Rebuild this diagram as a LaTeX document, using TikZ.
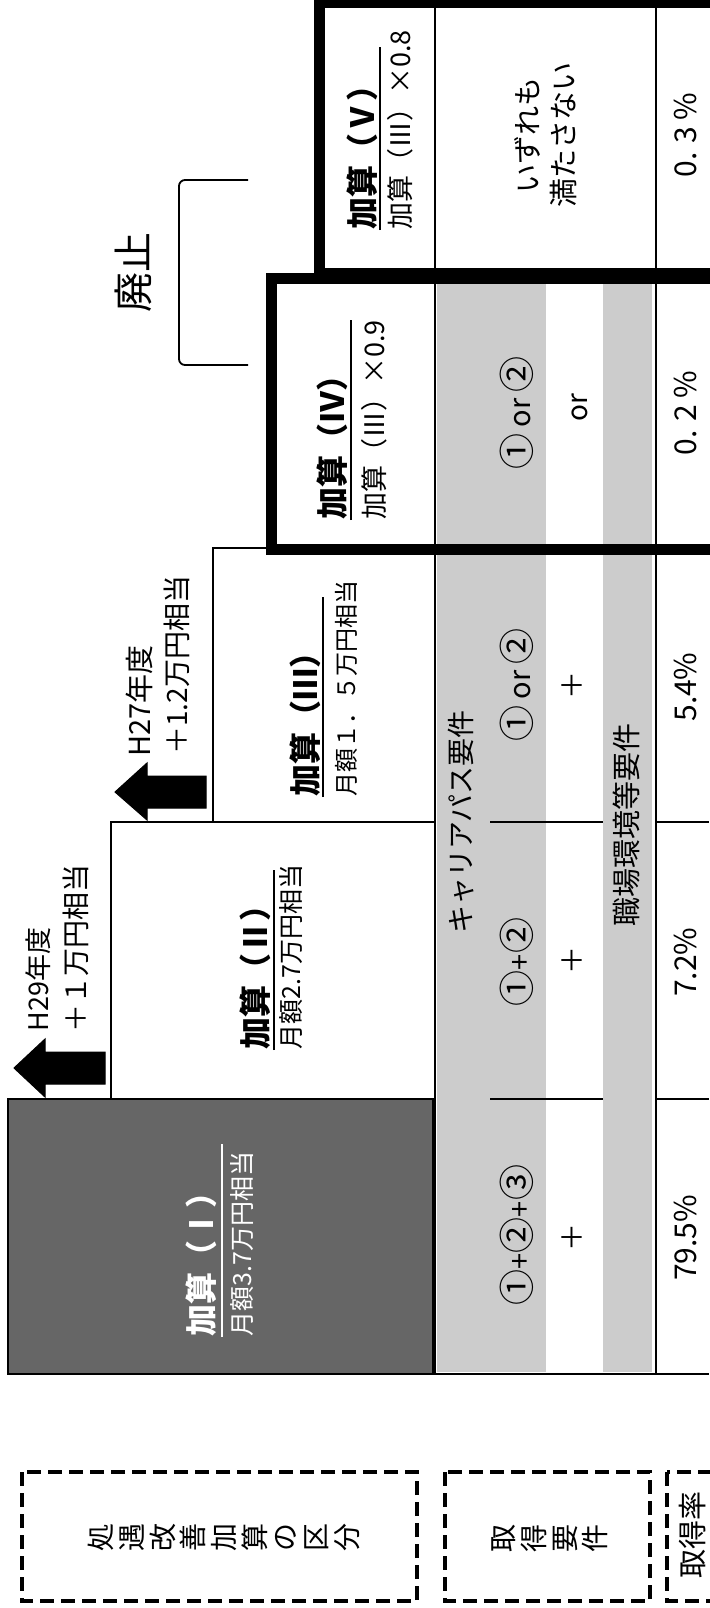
\documentclass[tikz,border=0pt]{standalone}
\usepackage{fontspec}
\setmainfont{Noto Sans CJK JP}
\newcommand{\fsz}[1]{\fontsize{#1}{#1}\selectfont}
\newcommand{\cnum}[1]{{\fsz{18}#1}}
\definecolor{lightg}{gray}{0.80}
\definecolor{darkg}{gray}{0.40}
\tikzset{
  thinln/.style={line width=1.3pt},
  thickbox/.style={line width=5.5pt},
  dashbox/.style={line width=2pt, dash pattern=on 7pt off 3.5pt},
  ul/.style={line width=1pt},
  rl/.style={rotate=90, inner sep=0pt},
  rw/.style={rotate=90, inner sep=0pt, anchor=west},
  ttl/.style={rw, font=\fsz{16}\bfseries},
  sub/.style={rw, font=\fsz{12.5}},
  arrowtxt/.style={rw, font=\fsz{14}},
  req/.style={rl, font=\fsz{14.5}},
  rate/.style={rl, font=\fsz{15}},
  hdr/.style={rl, align=center, font=\fontsize{14}{15.35}\selectfont},
  blockarrow/.style={fill=black, draw=black, line width=0.5pt}
}
\begin{document}
\begin{tikzpicture}[x=0.5pt,y=-0.5pt]
\useasboundingbox (0,0) rectangle (709,1608);

% grey bands of the requirement column
\fill[lightg] (437,283) rectangle (546,1372);
\fill[lightg] (603,283) rectangle (652,1372);

% step arrows (pointing left)
\fill[blockarrow] (14,1068) -- (45,1039) -- (45,1052) -- (105,1052) -- (105,1084) -- (45,1084) -- (45,1097) -- cycle;
\fill[blockarrow] (115,792) -- (147,763) -- (147,776) -- (206,776) -- (206,808) -- (147,808) -- (147,820) -- cycle;

% category boxes
\draw[thinln, fill=darkg] (8,1099) rectangle (433,1374);
\draw[thinln] (111,1099) -- (111,822) -- (435,822);
\draw[thinln] (213,822) -- (213,548) -- (271,548);

% column and row lines
\draw[thinln] (435,0) -- (435,1374);
\draw[thinln] (656,0) -- (656,1374);
\draw[thinln] (433,1374) -- (709,1374);
\draw[thinln] (490,822) -- (603,822) (656,822) -- (709,822);
\draw[thinln] (490,1099) -- (603,1099) (656,1099) -- (709,1099);

% thick boxes IV and V
\draw[thickbox] (319,2) rectangle (760,273);
\draw[thickbox] (271,278) rectangle (760,549);

% abolished bracket
\draw[line width=0.9pt, rounded corners=3pt] (248,180) -- (179,180) -- (179,365) -- (248,365);
\node[rl, font=\fsz{20}] (haishi) at (133.5,272) {廃止};

% arrow texts
\node[arrowtxt, font=\fsz{13.5}] (h29a) at (38.5,1032) {H29年度};
\node[arrowtxt] (h29b) at (75.5,1033) {＋１万円相当};
\node[arrowtxt, font=\fsz{14.5}] (h27a) at (139.5,757) {H27年度};
\node[arrowtxt] (h27b) at (176.5,755) {＋1.2万円相当};

% category titles
\node[ttl, text=white] (t1) at (201,1337) {加算（Ⅰ）};
\node[sub, text=white] (s1) at (242,1337) {月額3.7万円相当};
\draw[ul, white] (222,1337) -- (222,1144);

\node[ttl] (t2) at (255.5,1050) {加算（Ⅱ）};
\node[sub] (s2) at (291.5,1050) {月額2.7万円相当};
\draw[ul] (274,1050) -- (274,870);

\node[ttl] (t3) at (305.5,797) {加算（Ⅲ）};
\node[sub, font=\fsz{12}] (s3) at (346,797) {月額１．５万円相当};
\draw[ul] (323,797) -- (323,597);

\node[ttl] (t4) at (332.5,520) {加算（Ⅳ）};
\node[sub, font=\fsz{13.5}] (s4) at (374.5,520) {加算（Ⅲ）×0.9};
\draw[ul] (351,520) -- (351,320);

\node[ttl] (t5) at (362,230) {加算（Ⅴ）};
\node[sub, font=\fsz{13.5}] (s5) at (400.5,230) {加算（Ⅲ）×0.8};
\draw[ul] (380,230) -- (380,47);

% requirement texts
\node[req, font=\fsz{14}] (cp) at (461.5,822) {キャリアパス要件};
\node[req] (sk) at (626.5,825) {職場環境等要件};
\node[req] (r1) at (516.5,1235) {\cnum{①}+\cnum{②}+\cnum{③}};
\node[req] (r2) at (516.5,962) {\cnum{①}+\cnum{②}};
\node[req] (r3) at (516.5,685) {\cnum{①} or \cnum{②}};
\node[req] (r4) at (516.5,413) {\cnum{①} or \cnum{②}};
\node[req, font=\fsz{14}] (p1) at (572,1237) {＋};
\node[req, font=\fsz{14}] (p2) at (572,960) {＋};
\node[req, font=\fsz{14}] (p3) at (572,685) {＋};
\node[req, font=\fsz{14}] (p4) at (579.5,408) {or};
\node[rl, align=center, font=\fontsize{14.5}{18}\selectfont] (none) at (545.5,135) {いずれも\\満たさない};

% rates
\node[rate] (q1) at (685,1238) {79.5\%};
\node[rate] (q2) at (685,962) {7.2\%};
\node[rate] (q3) at (685,687) {5.4\%};
\node[rate] (q4) at (685,413) {0. 2 \%};
\node[rate] (q5) at (685,135) {0. 3 \%};

% dashed header boxes
\draw[dashbox] (22,1472) rectangle (417,1601);
\draw[dashbox] (445,1472) rectangle (650,1601);
\draw[dashbox] (667,1472) rectangle (760,1601);
\node[hdr] (hd1) at (224,1537) {処\\遇\\改\\善\\加\\算\\の\\区\\分};
\node[hdr] (hd2) at (550,1538) {取\\得\\要\\件};
\node[rl, font=\fsz{14.5}] (hd3) at (693,1535) {取得率};
\end{tikzpicture}
\end{document}
